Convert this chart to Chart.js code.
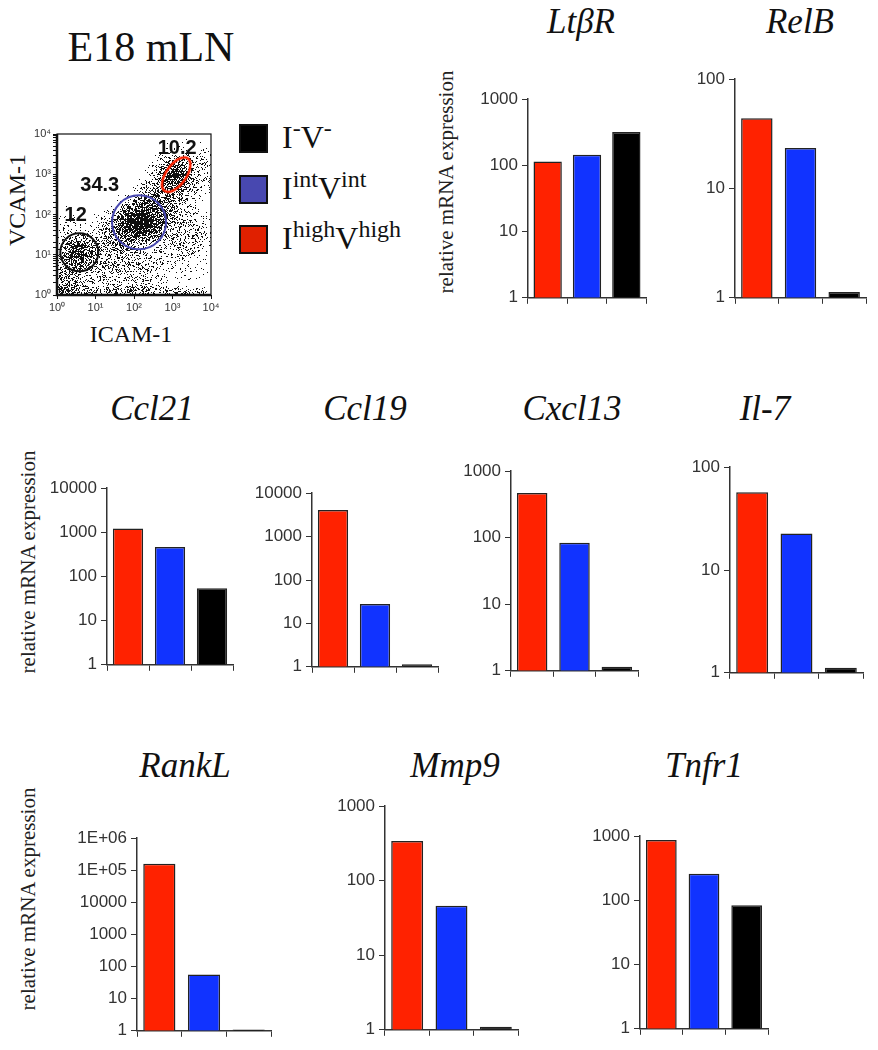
<!DOCTYPE html>
<html>
<head>
<meta charset="utf-8">
<script src="https://cdn.jsdelivr.net/npm/chart.js@4.4.1/dist/chart.umd.min.js"></script>
<style>
  body { margin: 0; background: #fff; width: 878px; height: 1050px; position: relative; overflow: hidden; font-family: "Liberation Serif", serif; color: #111; }
  canvas { position: absolute; }
  .title { position: absolute; width: 200px; margin-left: -100px; text-align: center; font-style: italic; font-size: 35px; line-height: 40px; }
  .ytitle { position: absolute; font-size: 21px; white-space: nowrap; transform: translate(-50%, -50%) rotate(-90deg); color: #222; }
  .sq { position: absolute; width: 25px; height: 25px; border: 2px solid #111; }
  .lg { position: absolute; left: 282px; font-size: 32px; line-height: 36px; white-space: nowrap; }
  .lg sup { font-size: 24px; vertical-align: 0; position: relative; top: -12px; }
</style>
</head>
<body>
<div style="position:absolute;left:0;width:302px;top:23px;text-align:center;font-size:42px;line-height:48px;">E18 mLN</div>

<div class="sq" style="left:239px;top:124px;background:#000"></div>
<div class="sq" style="left:239px;top:175px;background:#4848b0"></div>
<div class="sq" style="left:239px;top:225px;background:#e02000"></div>
<div class="lg" style="top:119px">I<sup>-</sup>V<sup>-</sup></div>
<div class="lg" style="top:170px">I<sup>int</sup>V<sup>int</sup></div>
<div class="lg" style="top:220px">I<sup>high</sup>V<sup>high</sup></div>

<div class="ytitle" style="left:17px;top:200px;font-size:24px;color:#111">VCAM-1</div>
<div style="position:absolute;left:31px;width:200px;top:319px;text-align:center;font-size:24px;line-height:30px;">ICAM-1</div>

<div class="ytitle" style="left:446px;top:182px">relative mRNA expression</div>
<div class="ytitle" style="left:28px;top:562px">relative mRNA expression</div>
<div class="ytitle" style="left:28px;top:899px">relative mRNA expression</div>

<script>
// ---------- Data ----------
const groups = ["IhighVhigh", "IintVint", "I-V-"];
const barColors = ["#ff2200", "#1133ff", "#000000"];

const ltbrValues = [115, 145, 320];
const relbValues = [44, 23.5, 1.13];
const ccl21Values = [1230, 465, 54];
const ccl19Values = [4100, 28, 1.15];
const cxcl13Values = [470, 84, 1.15];
const il7Values = [57, 22.7, 1.12];
const ranklValues = [160000, 57, 1.1];
const mmp9Values = [340, 46, 1.1];
const tnfr1Values = [870, 260, 84];

const ticksTo100 = [1, 10, 100];
const ticksTo1000 = [1, 10, 100, 1000];
const ticksTo10000 = [1, 10, 100, 1000, 10000];
const ticksTo1e6 = [1, 10, 100, 1000, 10000, 100000, 1000000];

// flow plot: decades, gates, gate frequencies, density clouds (ICAM-1 / VCAM-1 values)
const flowTicks = [1, 10, 100, 1000, 10000];
const flowTickLabels = ["10\u2070", "10\u00b9", "10\u00b2", "10\u00b3", "10\u2074"];
const gateX = [3.8, 135, 1250];
const gateY = [11.5, 64, 980];
const gateText = ["12", "34.3", "10.2"];
const gateTextX = [3.06, 12.9, 1320];
const gateTextY = [92, 537, 4300];
const haloX = [3.2, 25, 150, 600, 1700, 70, 900];
const haloY = [4.5, 16, 70, 260, 950, 3.5, 40];
const faintX = [2000, 6000, 300, 1.6, 9000];
const faintY = [8, 30, 5, 30, 1500];
const midX = [3.8, 135, 40, 400, 1200, 1.6, 300];
const midY = [11, 65, 35, 200, 980, 1.8, 90];
const coreX = [135, 90, 200, 1200, 3.8];
const coreY = [65, 80, 45, 980, 11];
const edgeX = [1.3, 2.5, 5, 10, 20, 40, 80, 160, 320, 640, 1300, 2600, 5200];
const edgeY = [1.1, 1.1, 1.1, 1.1, 1.1, 1.1, 1.1, 1.1, 1.1, 1.1, 1.1, 1.1, 1.1];

// ---------- Layout ----------
const panels = [
  { title: "LtβR", values: ltbrValues, ticks: ticksTo1000, axisX: 528, topY: 97, botY: 298, xEnd: 646, tx: 581, ty: 22 },
  { title: "RelB", values: relbValues, ticks: ticksTo100, axisX: 735, topY: 77, botY: 298, xEnd: 866, tx: 800, ty: 22 },
  { title: "Ccl21", values: ccl21Values, ticks: ticksTo10000, axisX: 107, topY: 486, botY: 665, xEnd: 233, tx: 152, ty: 409 },
  { title: "Ccl19", values: ccl19Values, ticks: ticksTo10000, axisX: 312, topY: 491, botY: 667, xEnd: 438, tx: 365, ty: 409 },
  { title: "Cxcl13", values: cxcl13Values, ticks: ticksTo1000, axisX: 511, topY: 469, botY: 671, xEnd: 638, tx: 572, ty: 409 },
  { title: "Il-7", values: il7Values, ticks: ticksTo100, axisX: 730, topY: 465, botY: 673, xEnd: 863, tx: 765, ty: 409 },
  { title: "RankL", values: ranklValues, ticks: ticksTo1e6, axisX: 137, topY: 836, botY: 1031, xEnd: 271, tx: 185, ty: 766 },
  { title: "Mmp9", values: mmp9Values, ticks: ticksTo1000, axisX: 385, topY: 804, botY: 1030, xEnd: 518, tx: 455, ty: 766 },
  { title: "Tnfr1", values: tnfr1Values, ticks: ticksTo1000, axisX: 640, topY: 834, botY: 1029, xEnd: 768, tx: 704, ty: 766 }
];

function makeCanvas(left, top, w, h) {
  const cv = document.createElement("canvas");
  cv.width = w; cv.height = h;
  cv.style.left = left + "px"; cv.style.top = top + "px";
  cv.style.width = w + "px"; cv.style.height = h + "px";
  document.body.appendChild(cv);
  return cv;
}

function tickLabel(v) {
  if (v >= 100000) return "1E+" + String(Math.round(Math.log10(v))).padStart(2, "0");
  return String(v);
}

function barPanel(p) {
  const YW = 70, PT = 12, XH = 14, PR = 8;
  const w = YW + (p.xEnd - p.axisX) + PR;
  const h = PT + (p.botY - p.topY) + XH;
  const cv = makeCanvas(p.axisX - YW, p.topY - PT, w, h);

  const t = document.createElement("div");
  t.className = "title";
  t.style.left = p.tx + "px";
  t.style.top = (p.ty - 20) + "px";
  t.textContent = p.title;
  document.body.appendChild(t);

  new Chart(cv, {
    type: "bar",
    data: {
      labels: groups,
      datasets: [{
        data: p.values,
        backgroundColor: barColors,
        borderColor: "#222",
        borderWidth: 1.5,
        barPercentage: 0.72,
        categoryPercentage: 1
      }]
    },
    options: {
      responsive: false, animation: false, devicePixelRatio: 1,
      layout: { padding: { top: PT, right: PR, left: 0, bottom: 0 } },
      plugins: { legend: { display: false }, tooltip: { enabled: false } },
      scales: {
        x: {
          grid: { drawOnChartArea: false, drawTicks: true, tickLength: 6, color: "#333", offset: true },
          border: { color: "#333", width: 1.5 },
          ticks: { display: false },
          afterFit: s => { s.height = XH; }
        },
        y: {
          type: "logarithmic", min: 1, max: p.ticks[p.ticks.length - 1],
          grid: { drawOnChartArea: false, tickLength: 6, color: "#333" },
          border: { color: "#333", width: 1.5 },
          ticks: { font: { family: "Liberation Sans", size: 17 }, color: "#333", padding: 4, callback: tickLabel },
          afterBuildTicks: s => { s.ticks = p.ticks.map(v => ({ value: v })); },
          afterFit: s => { s.width = YW; }
        }
      }
    }
  });
}

panels.forEach(barPanel);

// ---------- Flow plot ----------
function blob(r, a) {
  const c = document.createElement("canvas");
  c.width = c.height = r * 2;
  const g = c.getContext("2d");
  const grad = g.createRadialGradient(r, r, 0, r, r, r);
  grad.addColorStop(0, `rgba(0,0,0,${a})`);
  grad.addColorStop(0.5, `rgba(0,0,0,${a * 0.6})`);
  grad.addColorStop(1, "rgba(0,0,0,0)");
  g.fillStyle = grad;
  g.fillRect(0, 0, r * 2, r * 2);
  return c;
}

function ellipseGate() {
  const c = document.createElement("canvas");
  c.width = c.height = 50;
  const g = c.getContext("2d");
  g.strokeStyle = "#ff2200";
  g.lineWidth = 2.5;
  g.beginPath();
  g.ellipse(25, 25, 20, 10, -0.95, 0, Math.PI * 2);
  g.stroke();
  return c;
}

const pts = (xs, ys) => xs.map((x, i) => ({ x, y: ys[i] }));

// turn the soft density clouds into a dotted look (hash-threshold dither on pixel coords)
const stipplePlugin = {
  id: "stipple",
  afterDatasetDraw(chart, args) {
    if (args.index !== 3) return;
    const { ctx, chartArea: a } = chart;
    const x0 = Math.ceil(a.left), y0 = Math.ceil(a.top);
    const w = Math.floor(a.right) - x0, h = Math.floor(a.bottom) - y0;
    const img = ctx.getImageData(x0, y0, w, h);
    const d = img.data;
    for (let j = 0; j < h; j++) {
      for (let i = 0; i < w; i++) {
        const k = (j * w + i) * 4;
        const dark = Math.pow(d[k + 3] / 255, 1.1);
        const s = Math.sin((x0 + i) * 12.9898 + (y0 + j) * 78.233) * 43758.5453;
        const t = s - Math.floor(s);
        d[k] = d[k + 1] = d[k + 2] = 15;
        d[k + 3] = dark > t ? 255 : 0;
      }
    }
    ctx.putImageData(img, x0, y0);
  }
};

const framePlugin = {
  id: "frame",
  afterDraw(chart) {
    const { ctx, chartArea: a } = chart;
    ctx.save();
    ctx.strokeStyle = "#111";
    ctx.lineWidth = 1.2;
    ctx.strokeRect(a.left, a.top, a.right - a.left, a.bottom - a.top);
    ctx.lineWidth = 2.5;
    ctx.beginPath();
    ctx.moveTo(a.left, a.top);
    ctx.lineTo(a.left, a.bottom);
    ctx.lineTo(a.right, a.bottom);
    ctx.stroke();
    ctx.font = "bold 20px 'Liberation Sans'";
    ctx.fillStyle = "#111";
    ctx.textAlign = "center";
    ctx.textBaseline = "middle";
    gateText.forEach((s, i) => {
      ctx.fillText(s, chart.scales.x.getPixelForValue(gateTextX[i]), chart.scales.y.getPixelForValue(gateTextY[i]));
    });
    ctx.restore();
  }
};

const flowCv = makeCanvas(0, 105, 240, 240);
new Chart(flowCv, {
  type: "scatter",
  data: {
    datasets: [
      { data: pts([gateX[0]], [gateY[0]]), pointRadius: 19, pointBackgroundColor: "rgba(0,0,0,0)", pointBorderColor: "#111", pointBorderWidth: 2 },
      { data: pts([gateX[1]], [gateY[1]]), pointRadius: 27, pointBackgroundColor: "rgba(0,0,0,0)", pointBorderColor: "#4848b0", pointBorderWidth: 2 },
      { data: pts([gateX[2]], [gateY[2]]), pointRadius: 5, pointStyle: ellipseGate() },
      { data: pts(coreX, coreY), pointRadius: 5, pointStyle: blob(18, 0.65) },
      { data: pts(midX, midY), pointRadius: 5, pointStyle: blob(26, 0.38) },
      { data: pts(haloX, haloY), pointRadius: 5, pointStyle: blob(38, 0.27) },
      { data: pts(faintX, faintY), pointRadius: 5, pointStyle: blob(30, 0.14) },
      { data: pts(edgeX, edgeY), pointRadius: 5, pointStyle: blob(9, 0.45) }
    ]
  },
  options: {
    responsive: false, animation: false, devicePixelRatio: 1,
    layout: { padding: { top: 15, right: 10, left: 0, bottom: 0 } },
    plugins: { legend: { display: false }, tooltip: { enabled: false } },
    scales: {
      x: {
        type: "logarithmic", min: 1, max: 10000,
        grid: { drawOnChartArea: false, tickLength: 4, color: "#111" },
        border: { display: false },
        ticks: { font: { family: "Liberation Sans", size: 11 }, color: "#333", padding: 2, maxRotation: 0,
                 callback: v => flowTickLabels[flowTicks.indexOf(v)] },
        afterBuildTicks: s => { s.ticks = flowTicks.map(v => ({ value: v })); },
        afterFit: s => { s.height = 50; }
      },
      y: {
        type: "logarithmic", min: 1, max: 10000,
        grid: { drawOnChartArea: false, tickLength: 4, color: "#111" },
        border: { display: false },
        ticks: { font: { family: "Liberation Sans", size: 11 }, color: "#333", padding: 2, autoSkip: false,
                 callback: v => { const i = flowTicks.indexOf(v); return i < 0 ? "" : flowTickLabels[i]; } },
        afterFit: s => { s.width = 57; }
      }
    }
  },
  plugins: [stipplePlugin, framePlugin]
});
</script>
</body>
</html>
